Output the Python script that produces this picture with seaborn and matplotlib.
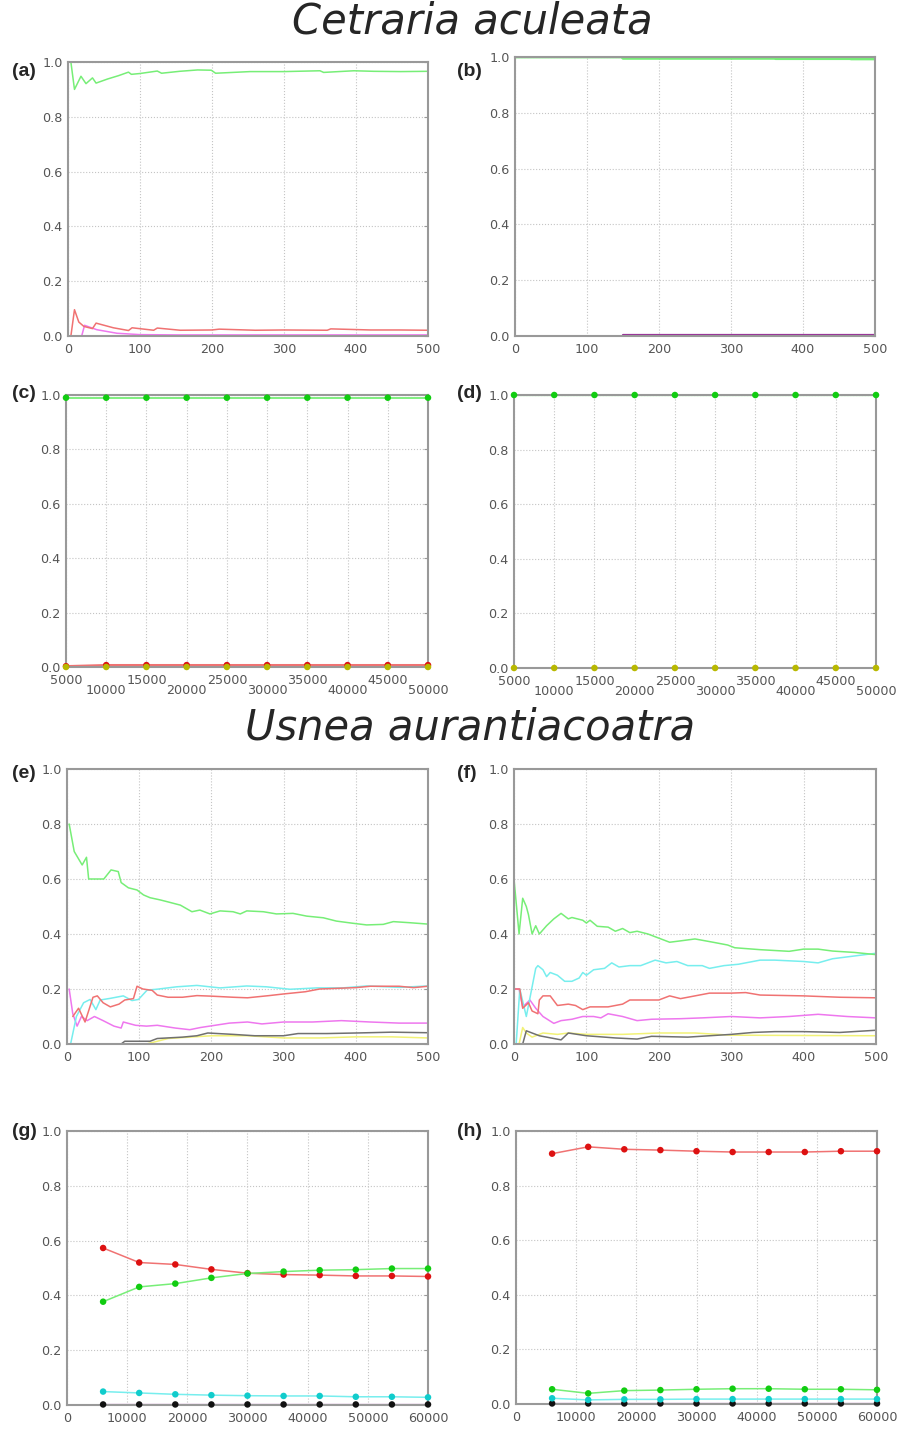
import matplotlib
matplotlib.use('Agg')
import matplotlib.pyplot as plt
from matplotlib.ticker import FormatStrFormatter
import numpy as np
import seaborn as sns

W, H = 909, 1429

# colours (gnuplot-like)
C_GREEN = '#77ee77'
C_RED = '#f07272'
C_CYAN = '#77eeee'
C_MAG = '#ee77ee'
C_PURPLE = '#993399'
C_GRAY = '#707070'
C_YELLOW = '#f2f277'
M_GREEN = '#11cc11'
M_RED = '#dd1111'
M_CYAN = '#11cccc'
M_BLACK = '#111111'
M_OLIVE = '#b8b800'

# ---------------- (a) Cetraria aculeata, runs 0-500
a_green_x = [4, 9, 18, 25, 34, 39, 55, 70, 84, 88, 100, 124, 130, 155, 180, 199, 205, 253, 300, 350, 355, 397, 425, 462, 500]
a_green_y = [1.0, 0.90, 0.948, 0.921, 0.942, 0.923, 0.938, 0.95, 0.963, 0.955, 0.958, 0.967, 0.959, 0.966, 0.971, 0.970, 0.959, 0.965, 0.965, 0.968, 0.962, 0.968, 0.966, 0.965, 0.966]
a_red_x = [4, 9, 15, 22, 34, 39, 63, 84, 89, 119, 124, 156, 200, 210, 260, 300, 360, 365, 420, 460, 500]
a_red_y = [0.0, 0.096, 0.051, 0.035, 0.027, 0.047, 0.030, 0.020, 0.030, 0.021, 0.029, 0.021, 0.022, 0.025, 0.021, 0.022, 0.021, 0.026, 0.022, 0.022, 0.021]
a_mag_x = [19, 23, 40, 68, 100, 150, 250, 500]
a_mag_y = [0.0, 0.039, 0.023, 0.010, 0.005, 0.004, 0.004, 0.004]
a_purple_x = [100, 500]
a_purple_y = [0.0, 0.0]

# ---------------- (b)
b_green_x = [0, 148, 150, 360, 362, 465, 467, 500]
b_green_y = [1.0, 1.0, 0.995, 0.995, 0.994, 0.994, 0.993, 0.993]
b_mag_x = [150, 500]
b_mag_y = [0.002, 0.002]

# ---------------- (c) / (d) long runs
cd_x = [5000, 10000, 15000, 20000, 25000, 30000, 35000, 40000, 45000, 50000]
c_green = [0.99, 0.99, 0.99, 0.99, 0.99, 0.99, 0.99, 0.99, 0.99, 0.99]
c_red = [0.003, 0.007, 0.007, 0.007, 0.007, 0.007, 0.007, 0.007, 0.007, 0.007]
c_yellow = [0.0, 0.0, 0.0, 0.0, 0.0, 0.0, 0.0, 0.0, 0.0, 0.0]
d_green = [1.0, 1.0, 1.0, 1.0, 1.0, 1.0, 1.0, 1.0, 1.0, 1.0]
d_yellow = [0.0, 0.0, 0.0, 0.0, 0.0, 0.0, 0.0, 0.0, 0.0, 0.0]
cd_ticks_top = [5000, 15000, 25000, 35000, 45000]
cd_ticks_bottom = [10000, 20000, 30000, 40000, 50000]

# ---------------- (e) Usnea aurantiacoatra, runs 0-500
e_green_x = [3, 10, 21, 27, 30, 51, 61, 71, 75, 85, 97, 106, 115, 129, 138, 157, 173, 184, 198, 212, 230, 240, 249, 272, 290, 313, 332, 355, 373, 396, 415, 438, 452, 475, 500]
e_green_y = [0.80, 0.70, 0.651, 0.679, 0.60, 0.60, 0.633, 0.627, 0.587, 0.568, 0.56, 0.542, 0.532, 0.524, 0.518, 0.505, 0.481, 0.487, 0.473, 0.484, 0.481, 0.473, 0.484, 0.481, 0.473, 0.475, 0.465, 0.459, 0.447, 0.439, 0.433, 0.435, 0.445, 0.441, 0.436]
e_cyan_x = [5, 13, 23, 32, 40, 46, 60, 78, 90, 99, 111, 124, 152, 180, 212, 249, 276, 309, 346, 382, 415, 461, 500]
e_cyan_y = [0.0, 0.10, 0.15, 0.162, 0.125, 0.16, 0.166, 0.175, 0.158, 0.162, 0.196, 0.199, 0.208, 0.213, 0.204, 0.211, 0.208, 0.199, 0.204, 0.204, 0.211, 0.206, 0.211]
e_red_x = [8, 16, 25, 36, 42, 50, 60, 72, 80, 92, 97, 105, 118, 125, 140, 160, 180, 200, 230, 250, 280, 300, 330, 350, 380, 400, 420, 460, 480, 500]
e_red_y = [0.10, 0.13, 0.08, 0.17, 0.175, 0.15, 0.135, 0.145, 0.16, 0.165, 0.21, 0.20, 0.195, 0.178, 0.17, 0.17, 0.176, 0.174, 0.17, 0.168, 0.176, 0.182, 0.19, 0.20, 0.203, 0.205, 0.21, 0.21, 0.205, 0.21]
e_mag_x = [3, 8, 14, 20, 28, 38, 50, 65, 75, 78, 95, 110, 125, 150, 170, 185, 205, 225, 250, 270, 300, 340, 380, 420, 460, 500]
e_mag_y = [0.20, 0.11, 0.065, 0.10, 0.085, 0.10, 0.085, 0.065, 0.058, 0.08, 0.068, 0.065, 0.068, 0.058, 0.052, 0.06, 0.068, 0.076, 0.08, 0.073, 0.08, 0.08, 0.085, 0.08, 0.076, 0.076]
e_gray_x = [75, 80, 115, 125, 160, 180, 195, 230, 260, 300, 320, 360, 400, 450, 500]
e_gray_y = [0.0, 0.01, 0.01, 0.02, 0.025, 0.03, 0.04, 0.035, 0.03, 0.03, 0.038, 0.038, 0.04, 0.043, 0.041]
e_yellow_x = [110, 125, 140, 170, 200, 250, 300, 350, 400, 450, 500]
e_yellow_y = [0.0, 0.01, 0.02, 0.025, 0.03, 0.03, 0.022, 0.022, 0.026, 0.026, 0.022]

# ---------------- (f)
f_green_x = [0, 7, 12, 17, 20, 25, 30, 35, 45, 55, 65, 75, 80, 95, 100, 105, 115, 130, 140, 150, 160, 170, 185, 200, 215, 230, 250, 275, 295, 305, 340, 380, 400, 420, 440, 470, 500]
f_green_y = [0.60, 0.40, 0.53, 0.50, 0.47, 0.40, 0.43, 0.40, 0.43, 0.455, 0.475, 0.455, 0.46, 0.45, 0.44, 0.45, 0.428, 0.425, 0.41, 0.42, 0.405, 0.41, 0.40, 0.385, 0.37, 0.375, 0.382, 0.37, 0.36, 0.35, 0.343, 0.337, 0.345, 0.345, 0.338, 0.333, 0.325]
f_cyan_x = [3, 8, 17, 30, 33, 40, 45, 50, 60, 70, 80, 90, 95, 100, 110, 125, 135, 145, 160, 175, 195, 210, 225, 240, 260, 270, 290, 310, 320, 340, 360, 400, 420, 440, 470, 500]
f_cyan_y = [0.0, 0.20, 0.10, 0.275, 0.285, 0.27, 0.245, 0.26, 0.25, 0.228, 0.228, 0.24, 0.26, 0.25, 0.27, 0.275, 0.295, 0.28, 0.285, 0.285, 0.305, 0.295, 0.30, 0.285, 0.285, 0.275, 0.285, 0.29, 0.295, 0.305, 0.305, 0.30, 0.295, 0.31, 0.32, 0.33]
f_red_x = [0, 8, 12, 20, 25, 33, 35, 40, 50, 60, 75, 85, 95, 105, 130, 150, 160, 200, 215, 230, 250, 270, 300, 320, 340, 400, 450, 500]
f_red_y = [0.20, 0.20, 0.13, 0.15, 0.12, 0.11, 0.16, 0.175, 0.175, 0.14, 0.145, 0.14, 0.125, 0.135, 0.135, 0.145, 0.16, 0.16, 0.175, 0.165, 0.175, 0.185, 0.185, 0.187, 0.178, 0.175, 0.17, 0.168]
f_mag_x = [0, 7, 12, 22, 30, 40, 55, 65, 80, 95, 110, 120, 130, 150, 170, 190, 230, 260, 300, 340, 380, 420, 460, 500]
f_mag_y = [0.20, 0.20, 0.135, 0.16, 0.13, 0.10, 0.075, 0.085, 0.09, 0.10, 0.10, 0.095, 0.11, 0.10, 0.085, 0.09, 0.092, 0.095, 0.10, 0.095, 0.10, 0.108, 0.10, 0.095]
f_gray_x = [12, 17, 35, 55, 65, 75, 100, 140, 170, 190, 240, 270, 300, 330, 360, 400, 450, 500]
f_gray_y = [0.0, 0.048, 0.03, 0.02, 0.015, 0.04, 0.03, 0.022, 0.018, 0.028, 0.025, 0.03, 0.035, 0.042, 0.045, 0.045, 0.042, 0.05]
f_yellow_x = [7, 12, 17, 25, 40, 60, 75, 100, 150, 200, 250, 300, 500]
f_yellow_y = [0.0, 0.06, 0.04, 0.025, 0.04, 0.035, 0.04, 0.035, 0.035, 0.04, 0.04, 0.032, 0.03]

# ---------------- (g) / (h) long runs
gh_x = [6000, 12000, 18000, 24000, 30000, 36000, 42000, 48000, 54000, 60000]
g_red = [0.573, 0.520, 0.513, 0.495, 0.481, 0.476, 0.474, 0.471, 0.471, 0.469]
g_green = [0.377, 0.431, 0.443, 0.464, 0.480, 0.487, 0.492, 0.494, 0.498, 0.498]
g_cyan = [0.049, 0.044, 0.039, 0.036, 0.034, 0.033, 0.033, 0.030, 0.030, 0.028]
g_black = [0.002, 0.002, 0.002, 0.002, 0.002, 0.002, 0.002, 0.002, 0.002, 0.002]
h_red = [0.917, 0.942, 0.933, 0.930, 0.926, 0.923, 0.923, 0.923, 0.926, 0.926]
h_green = [0.054, 0.039, 0.049, 0.051, 0.054, 0.056, 0.056, 0.054, 0.054, 0.052]
h_cyan = [0.021, 0.015, 0.017, 0.017, 0.018, 0.018, 0.018, 0.018, 0.018, 0.018]
h_black = [0.002, 0.002, 0.002, 0.002, 0.002, 0.002, 0.002, 0.002, 0.002, 0.002]
gh_zero = [0.0] * 10

sns.set_style('white')
plt.rcParams['font.family'] = ['DejaVu Sans']

fig = plt.figure(figsize=(W / 100, H / 100), dpi=100)


def add_ax(l, t, r, b):
    return fig.add_axes([l / W, 1 - b / H, (r - l) / W, (b - t) / H])


def line(ax, x, y, color, lw=1.1, z=2):
    sns.lineplot(x=x, y=y, color=color, lw=lw, ax=ax, estimator=None, sort=False, zorder=z)


def dots(ax, x, y, color, s=22, z=4):
    sns.scatterplot(x=x, y=y, color=color, s=s, edgecolor='none', ax=ax, zorder=z, clip_on=False)


def style(ax, xlim, xticks, ylim=(0, 1.0), label_size=9.2):
    ax.set_xlim(xlim)
    ax.set_ylim(ylim)
    if xticks is not None:
        ax.set_xticks(xticks)
    ax.set_yticks(np.arange(0, 1.01, 0.2))
    ax.yaxis.set_major_formatter(FormatStrFormatter('%.1f'))
    ax.grid(True, which='both', ls=':', color='#c4c4c4', lw=0.8)
    ax.tick_params(which='both', direction='in', length=3, color='#999999', labelcolor='#555555',
                   labelsize=label_size, right=True, top=False)
    ax.tick_params(axis='x', pad=5)
    ax.tick_params(axis='y', pad=4)
    for s in ax.spines.values():
        s.set_color('#999999')
        s.set_linewidth(1.5)
    ax.set_xlabel('')
    ax.set_ylabel('')


def stagger(ax):
    ax.set_xlim(5000, 50000)
    ax.set_xticks(cd_ticks_top)
    ax.set_xticklabels([str(v) for v in cd_ticks_top])
    ax.set_xticks(cd_ticks_bottom, minor=True)
    ax.set_xticklabels([str(v) for v in cd_ticks_bottom], minor=True)
    ax.tick_params(axis='x', which='major', pad=5)
    ax.tick_params(axis='x', which='minor', pad=12.5)


run_ticks = [0, 100, 200, 300, 400, 500]

# (a)
ax = add_ax(68, 62, 428, 336)
line(ax, a_purple_x, a_purple_y, C_PURPLE)
line(ax, a_mag_x, a_mag_y, C_MAG)
line(ax, a_red_x, a_red_y, C_RED)
line(ax, a_green_x, a_green_y, C_GREEN)
style(ax, (0, 500), run_ticks)

# (b)
ax = add_ax(515, 57, 875, 336)
line(ax, b_mag_x, b_mag_y, C_PURPLE, lw=1.6)
line(ax, b_green_x, b_green_y, C_GREEN, lw=2.0)
style(ax, (0, 500), run_ticks)

# (c)
ax = add_ax(66, 395, 428, 667)
line(ax, cd_x, c_green, C_GREEN, lw=1.3)
line(ax, cd_x, c_red, C_RED, lw=1.6)
dots(ax, cd_x, c_green, M_GREEN)
dots(ax, cd_x, c_red, M_RED)
dots(ax, cd_x, c_yellow, M_OLIVE, z=5)
style(ax, (5000, 50000), None)
stagger(ax)

# (d)
ax = add_ax(514, 395, 876, 668)
line(ax, cd_x, d_green, C_GREEN, lw=1.6)
line(ax, cd_x, d_yellow, C_YELLOW, lw=1.3)
dots(ax, cd_x, d_green, M_GREEN)
dots(ax, cd_x, d_yellow, M_OLIVE)
style(ax, (5000, 50000), None)
stagger(ax)

# (e)
ax = add_ax(67, 769, 428, 1044)
line(ax, e_yellow_x, e_yellow_y, C_YELLOW)
line(ax, e_gray_x, e_gray_y, C_GRAY)
line(ax, e_mag_x, e_mag_y, C_MAG)
line(ax, e_cyan_x, e_cyan_y, C_CYAN)
line(ax, e_red_x, e_red_y, C_RED)
line(ax, e_green_x, e_green_y, C_GREEN)
style(ax, (0, 500), run_ticks)

# (f)
ax = add_ax(514, 769, 876, 1044)
line(ax, f_yellow_x, f_yellow_y, C_YELLOW)
line(ax, f_gray_x, f_gray_y, C_GRAY)
line(ax, f_mag_x, f_mag_y, C_MAG)
line(ax, f_cyan_x, f_cyan_y, C_CYAN)
line(ax, f_red_x, f_red_y, C_RED)
line(ax, f_green_x, f_green_y, C_GREEN)
style(ax, (0, 500), run_ticks)

gh_ticks = [0, 10000, 20000, 30000, 40000, 50000, 60000]

# (g)
ax = add_ax(67, 1131, 428, 1405)
line(ax, gh_x, gh_zero, C_PURPLE, lw=1.6)
line(ax, gh_x, g_cyan, C_CYAN)
line(ax, gh_x, g_red, C_RED)
line(ax, gh_x, g_green, C_GREEN)
dots(ax, gh_x, g_black, M_BLACK)
dots(ax, gh_x, g_cyan, M_CYAN)
dots(ax, gh_x, g_red, M_RED)
dots(ax, gh_x, g_green, M_GREEN)
style(ax, (0, 60000), gh_ticks)

# (h)
ax = add_ax(516, 1131, 877, 1404)
line(ax, gh_x, gh_zero, C_PURPLE, lw=1.6)
line(ax, gh_x, h_cyan, C_CYAN)
line(ax, gh_x, h_green, C_GREEN)
line(ax, gh_x, h_red, C_RED)
dots(ax, gh_x, h_black, M_BLACK)
dots(ax, gh_x, h_cyan, M_CYAN)
dots(ax, gh_x, h_green, M_GREEN)
dots(ax, gh_x, h_red, M_RED)
style(ax, (0, 60000), gh_ticks)

# titles and panel letters
fig.text(472 / W, 1 - 22 / H, 'Cetraria aculeata', fontsize=30, style='italic', ha='center', va='center')
fig.text(470 / W, 1 - 728 / H, 'Usnea aurantiacoatra', fontsize=30, style='italic', ha='center', va='center')

letters = [('(a)', 12, 71), ('(b)', 457, 71), ('(c)', 12, 394), ('(d)', 457, 394),
           ('(e)', 12, 773), ('(f)', 457, 773), ('(g)', 12, 1131), ('(h)', 457, 1131)]
for txt, px, py in letters:
    fig.text(px / W, 1 - py / H, txt, fontsize=14, fontweight='bold', ha='left', va='center',
             family=['Liberation Sans', 'DejaVu Sans'])

fig.savefig('out.png', dpi=100)
